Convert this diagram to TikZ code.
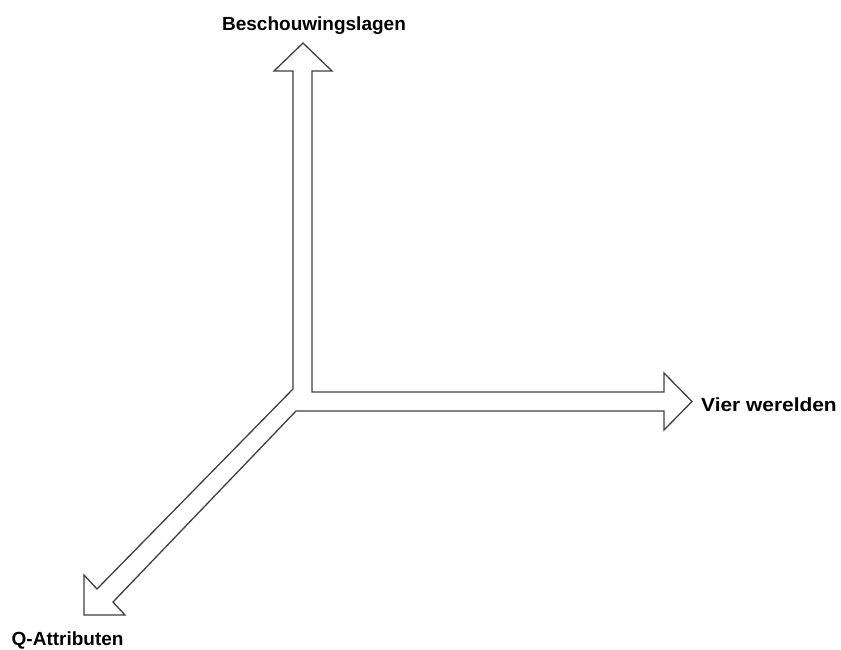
\documentclass[tikz,border=0pt]{standalone}
\usepackage{fontspec}
\setmainfont{Liberation Sans}
\begin{document}
\begin{tikzpicture}[x=1pt,y=-1pt,
  outline/.style={draw=black!75,line width=1.3pt,line join=miter,fill=white},
  axislabel/.style={font=\fontsize{19}{22}\selectfont\bfseries,inner sep=0pt}]
\useasboundingbox (0,0) rectangle (841,649);
% three hollow axis arrows drawn as one outline
\draw[outline]
  (293,389) -- (293,71) -- (274,71) -- (303,43) -- (332,71) -- (312,71)
  -- (312,392) -- (664,392) -- (664,373) -- (692,401.5) -- (664,430)
  -- (664,411) -- (296,411) -- (113,602) -- (125,615) -- (84,615)
  -- (84,575) -- (97,589) -- cycle;
% axis labels
\node[axislabel,anchor=base] (up) at (314,30.5) {Beschouwingslagen};
\node[axislabel,anchor=base west] (right) at (701,411) {\scalebox{1.1}[1]{Vier werelden}};
\node[axislabel,anchor=base west] (down) at (11.5,645.5) {Q-Attributen};
\end{tikzpicture}
\end{document}
